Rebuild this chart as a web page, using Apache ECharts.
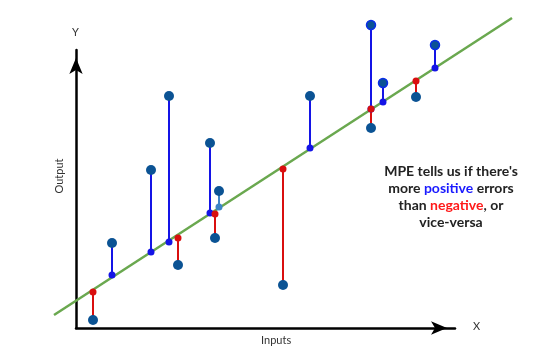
<!DOCTYPE html>
<html>
<head>
<meta charset="utf-8">
<script src="https://cdn.jsdelivr.net/npm/echarts@6/dist/echarts.min.js"></script>
<style>
  html, body { margin: 0; padding: 0; background: #fff; }
  #main { width: 554px; height: 353px; }
</style>
</head>
<body>
<div id="main"></div>
<script>
const inputs    = [1.7, 3.6, 7.5, 9.3, 10.2, 13.4, 13.9, 14.3, 20.7, 23.4, 29.5, 29.5, 30.7, 34.0, 35.9];
const actual    = [0.8, 8.5, 15.8, 23.2, 6.3, 18.5, 9.0, 13.7, 4.3, 23.2, 30.3, 20.0, 24.5, 23.1, 28.3];
const predicted = [3.6, 5.3, 7.6, 8.6, 9.0, 11.5, 11.4, 12.1, 15.9, 18.0, 21.9, 21.9, 22.6, 24.7, 26.0];
// 'pos' = positive error, 'neg' = negative error, 'mid' = the pale one
const kinds     = ['neg', 'pos', 'pos', 'pos', 'neg', 'pos', 'neg', 'mid', 'neg', 'pos', 'pos', 'neg', 'pos', 'neg', 'pos'];
const ringed    = [false, false, false, false, false, false, false, false, false, false, true, false, true, false, true];
// the fitted line
const fitX = [-2.2, 43.6];
const fitY = [1.3, 31.0];

const kindColor = { pos: '#1414e6', neg: '#d90f0f', mid: '#3d85c6' };
const dotColor = '#0b5394';

const segments = inputs.map((x, i) => ({
  coords: [[x, actual[i]], [x, predicted[i]]],
  lineStyle: { color: kindColor[kinds[i]] }
}));

const option = {
  animation: false,
  grid: { left: 76, top: 50, width: 379, height: 278 },
  xAxis: {
    type: 'value', min: 0, max: 37.9,
    axisLine: { lineStyle: { color: '#000', width: 2.5 }, symbol: ['none', 'arrow'], symbolSize: [10, 16], symbolOffset: [0, -8] },
    axisTick: { show: false }, axisLabel: { show: false }, splitLine: { show: false }
  },
  yAxis: {
    type: 'value', min: 0, max: 27.8,
    axisLine: { lineStyle: { color: '#000', width: 2.5 }, symbol: ['none', 'arrow'], symbolSize: [10, 16], symbolOffset: [0, -8] },
    axisTick: { show: false }, axisLabel: { show: false }, splitLine: { show: false }
  },
  series: [
    {
      type: 'lines',
      coordinateSystem: 'cartesian2d',
      data: [{ coords: fitX.map((x, i) => [x, fitY[i]]) }],
      clip: false, z: 2,
      lineStyle: { color: '#6aa84f', width: 2.5, opacity: 1 }
    },
    {
      type: 'lines',
      coordinateSystem: 'cartesian2d',
      data: segments, clip: false, z: 3,
      lineStyle: { width: 2, opacity: 1 }
    },
    {
      type: 'scatter',
      data: inputs.map((x, i) => ({ value: [x, predicted[i]], itemStyle: { color: kindColor[kinds[i]], opacity: 1 } })),
      symbolSize: 7, clip: false, z: 4
    },
    {
      type: 'scatter',
      data: inputs.map((x, i) => ({
        value: [x, actual[i]],
        symbolSize: ringed[i] ? 9 : 10,
        itemStyle: ringed[i]
          ? { color: dotColor, borderColor: '#0a2ee8', borderWidth: 1.5, opacity: 1 }
          : { color: dotColor, opacity: 1 }
      })),
      clip: false, z: 5
    }
  ],
  graphic: [
    { type: 'text', left: 72, top: 27, style: { text: 'Y', font: '11px Lato', fill: '#333' } },
    { type: 'text', left: 473, top: 321, style: { text: 'X', font: '11px Lato', fill: '#333' } },
    { type: 'text', left: 261, top: 335, style: { text: 'Inputs', font: '11px Lato', fill: '#333' } },
    { type: 'text', x: 59, y: 176, rotation: Math.PI / 2, style: { text: 'Output', font: '11px Lato', fill: '#333', align: 'center', verticalAlign: 'middle' } },
    {
      type: 'text', x: 451, y: 163,
      style: {
        text: "MPE tells us if there's\nmore {p|positive} errors\nthan {n|negative}, or\nvice-versa",
        align: 'center', fill: '#222',
        font: 'bold 14px Lato', lineHeight: 17,
        rich: {
          p: { fill: '#1a1aff', font: 'bold 14px Lato' },
          n: { fill: '#ff1a1a', font: 'bold 14px Lato' }
        }
      }
    }
  ]
};

const chart = echarts.init(document.getElementById('main'));
chart.setOption(option);
</script>
</body>
</html>
